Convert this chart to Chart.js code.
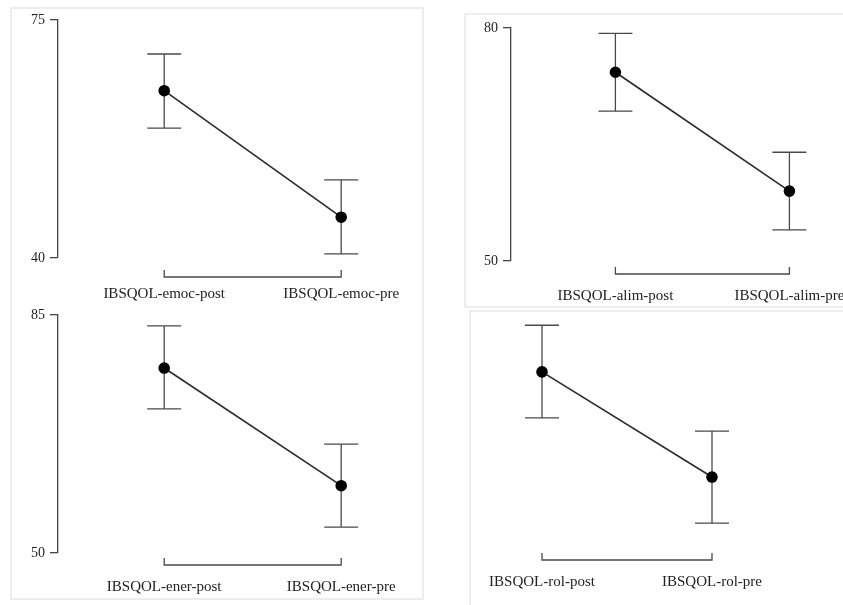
<!DOCTYPE html>
<html>
<head>
<meta charset="utf-8">
<script src="https://cdn.jsdelivr.net/npm/chart.js@4"></script>
<style>
  body { margin: 0; background: #fff; overflow: hidden; width: 843px; height: 605px; position: relative; }
  .frame { position: absolute; border: 2px solid #ededed; box-sizing: border-box; }
  .panel { position: absolute; }
</style>
</head>
<body>
<div class="frame" style="left:10px;top:7px;width:414px;height:593px"></div>
<div class="frame" style="left:464px;top:13px;width:400px;height:295px"></div>
<div class="frame" style="left:469px;top:310px;width:400px;height:310px"></div>

<div class="panel" style="left:10px;top:7px;width:413px;height:296px"><canvas id="emoc_chart"></canvas></div>
<div class="panel" style="left:465px;top:14px;width:378px;height:293px"><canvas id="alim_chart"></canvas></div>
<div class="panel" style="left:10px;top:303px;width:413px;height:296px"><canvas id="ener_chart"></canvas></div>
<div class="panel" style="left:470px;top:311px;width:373px;height:294px"><canvas id="rol_chart"></canvas></div>

<script>
// values (mean and error bar ends)
const emocLabels = ['IBSQOL-emoc-post', 'IBSQOL-emoc-pre'];
const emocMean = [64.6, 46.0];
const emocLow = [59.1, 40.6];
const emocHigh = [70.0, 51.5];
const emocTicks = [40, 75];

const alimLabels = ['IBSQOL-alim-post', 'IBSQOL-alim-pre'];
const alimMean = [74.3, 59.0];
const alimLow = [69.3, 54.0];
const alimHigh = [79.3, 64.0];
const alimTicks = [50, 80];

const enerLabels = ['IBSQOL-ener-post', 'IBSQOL-ener-pre'];
const enerMean = [77.2, 59.9];
const enerLow = [71.2, 53.8];
const enerHigh = [83.4, 66.0];
const enerTicks = [50, 85];

// no y axis is shown for this one, values estimated on a 50-85 range
const rolLabels = ['IBSQOL-rol-post', 'IBSQOL-rol-pre'];
const rolMean = [76.8, 60.8];
const rolLow = [69.8, 53.8];
const rolHigh = [83.9, 67.8];
const rolTicks = [50, 85];

const serif = { family: 'Liberation Serif', size: 14 };
const serifLabel = { family: 'Liberation Serif', size: 15 };

const errorBars = {
  id: 'errorBars',
  beforeDatasetsDraw(chart, args, opts) {
    const { ctx } = chart;
    const x = chart.scales.x, y = chart.scales.y;
    ctx.save();
    ctx.strokeStyle = '#4a4a4a';
    ctx.lineWidth = 1.3;
    opts.low.forEach((lo, i) => {
      const px = x.getPixelForValue(i);
      const y1 = y.getPixelForValue(lo);
      const y2 = y.getPixelForValue(opts.high[i]);
      ctx.beginPath();
      ctx.moveTo(px, y1); ctx.lineTo(px, y2);
      ctx.moveTo(px - 17, y1); ctx.lineTo(px + 17, y1);
      ctx.moveTo(px - 17, y2); ctx.lineTo(px + 17, y2);
      ctx.stroke();
    });
    // bracket under the points
    const by = chart.chartArea.bottom + opts.gap;
    const x0 = x.getPixelForValue(0), x1 = x.getPixelForValue(1);
    ctx.beginPath();
    ctx.moveTo(x0, by - 7); ctx.lineTo(x0, by); ctx.lineTo(x1, by); ctx.lineTo(x1, by - 7);
    ctx.stroke();
    ctx.restore();
  }
};

function makePanel(id, labels, mean, low, high, ticks, p) {
  new Chart(document.getElementById(id), {
    type: 'scatter',
    data: {
      datasets: [{
        data: mean.map((v, i) => ({ x: i, y: v })),
        showLine: true,
        borderColor: '#2a2a2a',
        borderWidth: 1.6,
        pointRadius: 5,
        pointBackgroundColor: '#000',
        pointBorderColor: '#000'
      }]
    },
    plugins: [errorBars],
    options: {
      responsive: true,
      maintainAspectRatio: false,
      animation: false,
      layout: { padding: { top: p.top, right: p.right, left: p.left || 0, bottom: 0 } },
      plugins: {
        legend: { display: false },
        tooltip: { enabled: false },
        errorBars: { low: low, high: high, gap: p.gap }
      },
      scales: {
        x: {
          type: 'linear',
          min: p.xmin,
          max: p.xmax,
          grid: { display: false },
          border: { display: false },
          afterBuildTicks: s => { s.ticks = [{ value: 0 }, { value: 1 }]; },
          afterFit: s => { s.height = p.xh; s.paddingLeft = 0; s.paddingRight = 0; },
          ticks: {
            padding: p.lp,
            autoSkip: false,
            maxRotation: 0,
            color: '#222',
            font: serifLabel,
            callback: v => labels[v]
          }
        },
        y: {
          display: p.yaxis,
          min: ticks[0],
          max: ticks[1],
          afterBuildTicks: s => { s.ticks = ticks.map(v => ({ value: v })); },
          afterFit: s => { s.width = p.yw; s.paddingTop = 0; s.paddingBottom = 0; },
          border: { display: true, color: '#444', width: 1.3 },
          grid: { drawOnChartArea: false, drawTicks: true, tickLength: 8, color: '#444', lineWidth: 1.3 },
          ticks: { padding: 5, color: '#222', font: serif }
        }
      }
    }
  });
}

makePanel('emoc_chart', emocLabels, emocMean, emocLow, emocHigh, emocTicks,
  { top: 13, right: 11, xh: 45, yw: 48, xmin: -0.6, xmax: 1.4, gap: 19, lp: 19, yaxis: true });
makePanel('alim_chart', alimLabels, alimMean, alimLow, alimHigh, alimTicks,
  { top: 14, right: 1, xh: 46, yw: 46, xmin: -0.6, xmax: 1.27, gap: 13, lp: 18, yaxis: true });
makePanel('ener_chart', enerLabels, enerMean, enerLow, enerHigh, enerTicks,
  { top: 12, right: 11, xh: 46, yw: 48, xmin: -0.6, xmax: 1.4, gap: 12, lp: 17, yaxis: true });
makePanel('rol_chart', rolLabels, rolMean, rolLow, rolHigh, rolTicks,
  { top: 7, right: 46, left: 21, xh: 57, yw: 0, xmin: -0.3, xmax: 1.5, gap: 12, lp: 17, yaxis: false });
</script>
</body>
</html>
